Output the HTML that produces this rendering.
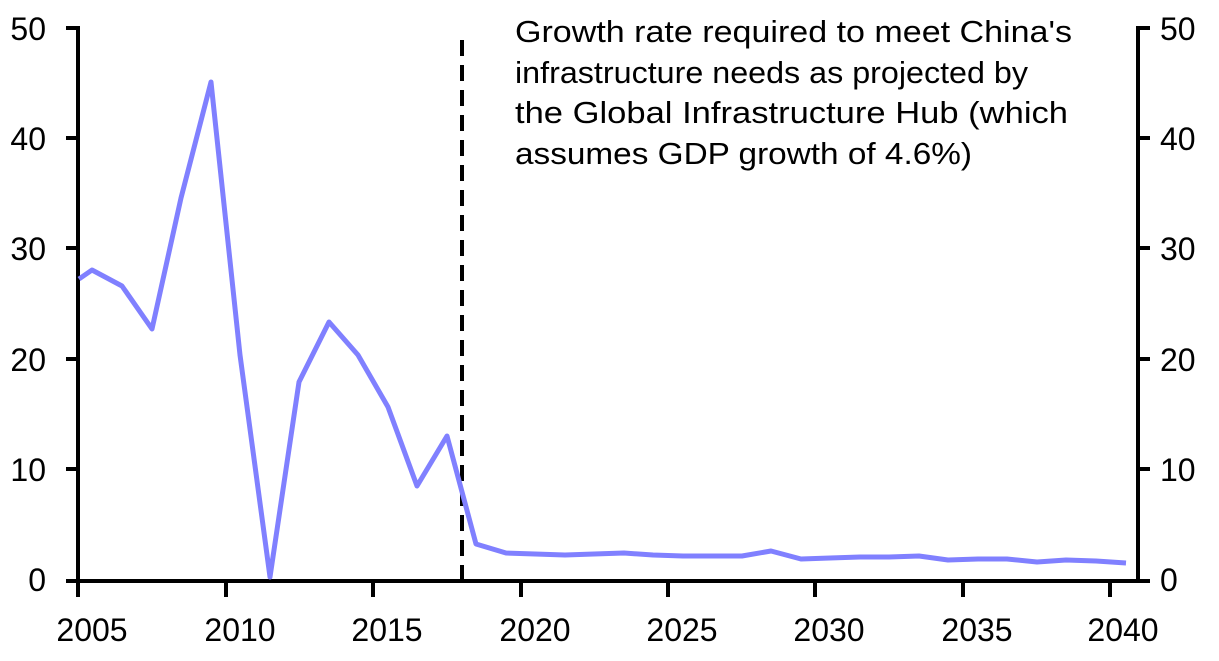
<!DOCTYPE html>
<html><head><style>body{margin:0;background:#fff}svg{display:block}text{font-family:"Liberation Sans",sans-serif;fill:#000}</style></head>
<body>
<svg width="1219" height="661" viewBox="0 0 1219 661">
<g stroke="#000" stroke-width="4" fill="none">
<line x1="78" y1="26" x2="78" y2="583"/>
<line x1="1138" y1="26" x2="1138" y2="583"/>
<line x1="66" y1="581" x2="1150" y2="581"/>
<path d="M66 28H78M66 138H78M66 248H78M66 359H78M66 469H78"/>
<path d="M1138 28H1150M1138 138H1150M1138 248H1150M1138 359H1150M1138 469H1150"/>
<path d="M78 581V597M226 581V597M373 581V597M521 581V597M668 581V597M815 581V597M963 581V597M1110 581V597"/>
<line x1="462" y1="40" x2="462" y2="579" stroke-dasharray="16,9"/>
</g>
<polyline fill="none" stroke="#8080ff" stroke-width="5" stroke-linejoin="round" points="79,279 92,270 122,286 152,329 181,198 211,82 240,355 270,577 299,382 329,322 358,355 388,407 417,486 447,436 476,544 506,553 535,554 565,555 594,554 624,553 653,555 683,556 712,556 742,556 771,551 801,559 830,558 860,557 889,557 919,556 948,560 978,559 1007,559 1037,562 1066,560 1096,561 1126,563"/>
<g font-size="32" text-anchor="end">
<text x="46" y="40">50</text><text x="46" y="150">40</text><text x="46" y="260">30</text><text x="46" y="371">20</text><text x="46" y="481">10</text><text x="46" y="591">0</text>
</g>
<g font-size="32" text-anchor="start">
<text x="1160" y="40">50</text><text x="1160" y="150">40</text><text x="1160" y="260">30</text><text x="1160" y="371">20</text><text x="1160" y="481">10</text><text x="1160" y="591">0</text>
</g>
<g font-size="32" text-anchor="middle">
<text x="92" y="641">2005</text><text x="240" y="641">2010</text><text x="387" y="641">2015</text><text x="535" y="641">2020</text><text x="682" y="641">2025</text><text x="829" y="641">2030</text><text x="977" y="641">2035</text><text x="1123" y="641">2040</text>
</g>
<g font-size="31">
<text x="515" y="42" textLength="557" lengthAdjust="spacingAndGlyphs">Growth rate required to meet China's</text>
<text x="515" y="83" textLength="513" lengthAdjust="spacingAndGlyphs">infrastructure needs as projected by</text>
<text x="515" y="123" textLength="553" lengthAdjust="spacingAndGlyphs">the Global Infrastructure Hub (which</text>
<text x="515" y="164" textLength="457" lengthAdjust="spacingAndGlyphs">assumes GDP growth of 4.6%)</text>
</g>
</svg>
</body></html>
